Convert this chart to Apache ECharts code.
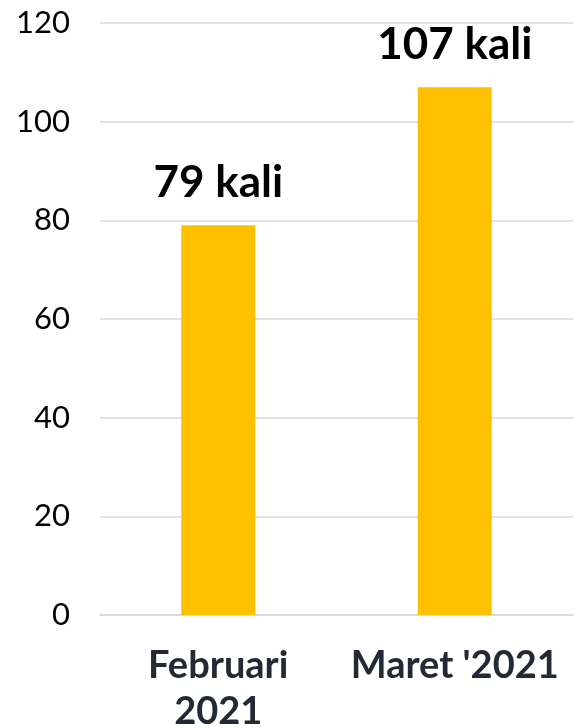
<!DOCTYPE html>
<html>
<head>
<meta charset="utf-8">
<script src="https://cdn.jsdelivr.net/npm/echarts@6/dist/echarts.min.js"></script>
<style>
  html, body { margin: 0; padding: 0; background: #ffffff; overflow: hidden; }
  #chart { width: 576px; height: 728px; }
</style>
</head>
<body>
<div id="chart"></div>
<script>
// Monthly counts
const categories = ['Februari\n2021', "Maret '2021"];
const counts = [79, 107];
const countSuffix = ' kali';

const chart = echarts.init(document.getElementById('chart'), null, { renderer: 'canvas' });

chart.setOption({
  animation: false,
  backgroundColor: '#ffffff',
  grid: { left: 100, right: 3, top: 23, bottom: 113, containLabel: false, outerBoundsMode: 'none' },
  xAxis: {
    type: 'category',
    data: categories,
    axisLine: { show: true, lineStyle: { color: '#d9d9d9', width: 1.5 } },
    axisTick: { show: false },
    axisLabel: {
      interval: 0,
      hideOverlap: false,
      margin: 28,
      color: '#222a35',
      fontFamily: 'Lato',
      fontWeight: 'bold',
      fontSize: 38,
      lineHeight: 46
    }
  },
  yAxis: {
    type: 'value',
    min: 0,
    max: 120,
    interval: 20,
    axisLine: { show: false },
    axisTick: { show: false },
    splitLine: { lineStyle: { color: '#d9d9d9', width: 1.5 } },
    axisLabel: {
      margin: 30,
      color: '#000000',
      fontFamily: 'Lato',
      fontWeight: 'normal',
      fontSize: 31
    }
  },
  series: [{
    type: 'bar',
    data: counts,
    barWidth: 74,
    itemStyle: { color: '#FFC000' },
    label: {
      show: true,
      position: 'top',
      distance: 20,
      color: '#000000',
      fontFamily: 'Lato',
      fontWeight: 'bold',
      fontSize: 44,
      formatter: p => p.value + countSuffix
    }
  }]
});
</script>
</body>
</html>
